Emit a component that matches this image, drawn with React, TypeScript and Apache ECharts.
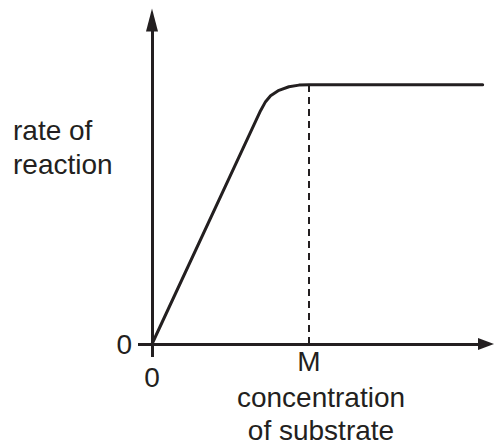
import React, { useEffect, useRef } from "react";
import * as echarts from "echarts";

const curveX = [0, 32.5, 34, 35.5, 38, 41, 44, 47, 99];
const curveY = [0, 72, 74.8, 76.6, 78.3, 79.4, 79.9, 80, 80];
const xTickValues = [0];
const yTickValues = [0];
const xTickLabels = ["0"];
const yTickLabels = ["0"];
const xMin = 0;
const xMax = 100;
const yMin = 0;
const yMax = 100;
const markX = 47;
const markTop = 80;
const markLabel = "M";
const xName = "concentration\nof substrate";
const yName = "rate of\nreaction";

const INK = "#231f20";
const FONT = "'Liberation Sans', Arial, Helvetica, sans-serif";

export default function App() {
  const ref = useRef<HTMLDivElement>(null);
  useEffect(() => {
    if (!ref.current) return;
    const chart = echarts.init(ref.current, undefined, { renderer: "svg" });
    const data = curveX.map((x, i) => [x, curveY[i]]);
    chart.setOption({
      animation: false,
      backgroundColor: "#ffffff",
      grid: {
        left: 152,
        right: 8,
        top: 20,
        bottom: 104,
        containLabel: false,
        outerBoundsMode: "none",
      },
      xAxis: {
        type: "value",
        min: xMin,
        max: xMax,
        axisLine: {
          show: true,
          onZero: false,
          symbol: ["none", "triangle"],
          symbolSize: [12, 16],
          lineStyle: { color: INK, width: 3 },
        },
        axisTick: {
          show: true,
          inside: false,
          length: 13,
          customValues: xTickValues,
          lineStyle: { color: INK, width: 3 },
        },
        axisLabel: {
          show: true,
          margin: 19,
          customValues: xTickValues,
          formatter: (v: number) => xTickLabels[xTickValues.indexOf(v)] ?? "",
          color: INK,
          fontSize: 28,
          fontFamily: FONT,
        },
        splitLine: { show: false },
      },
      yAxis: {
        type: "value",
        min: yMin,
        max: yMax,
        axisLine: {
          show: true,
          onZero: false,
          symbol: ["none", "triangle"],
          symbolSize: [12, 23],
          lineStyle: { color: INK, width: 3 },
        },
        axisTick: {
          show: true,
          inside: false,
          length: 14,
          customValues: yTickValues,
          lineStyle: { color: INK, width: 3 },
        },
        axisLabel: {
          show: true,
          margin: 20,
          customValues: yTickValues,
          formatter: (v: number) => yTickLabels[yTickValues.indexOf(v)] ?? "",
          color: INK,
          fontSize: 28,
          fontFamily: FONT,
        },
        splitLine: { show: false },
      },
      graphic: [
        {
          type: "text",
          left: 13,
          top: 113,
          style: {
            text: yName,
            fill: INK,
            fontSize: 28,
            lineHeight: 34,
            fontFamily: FONT,
          },
        },
        {
          type: "text",
          x: 321,
          y: 381,
          style: {
            text: xName,
            fill: INK,
            fontSize: 28,
            lineHeight: 33,
            fontFamily: FONT,
            align: "center",
            verticalAlign: "top",
          },
        },
      ],
      series: [
        {
          type: "line",
          data,
          showSymbol: false,
          symbol: "none",
          smooth: false,
          lineStyle: { color: INK, width: 3, cap: "round", join: "round" },
          z: 3,
          markLine: {
            silent: true,
            symbol: ["none", "none"],
            lineStyle: { color: INK, width: 2, type: [7, 5] },
            label: {
              show: true,
              position: "start",
              distance: 3,
              formatter: markLabel,
              color: INK,
              fontSize: 28,
              fontFamily: FONT,
            },
            data: [[{ coord: [markX, 0] }, { coord: [markX, markTop] }]],
          },
        },
      ],
    });
    return () => chart.dispose();
  }, []);
  return (
    <div
      ref={ref}
      style={{ position: "absolute", left: 0, top: 0, width: 494, height: 448 }}
    />
  );
}
